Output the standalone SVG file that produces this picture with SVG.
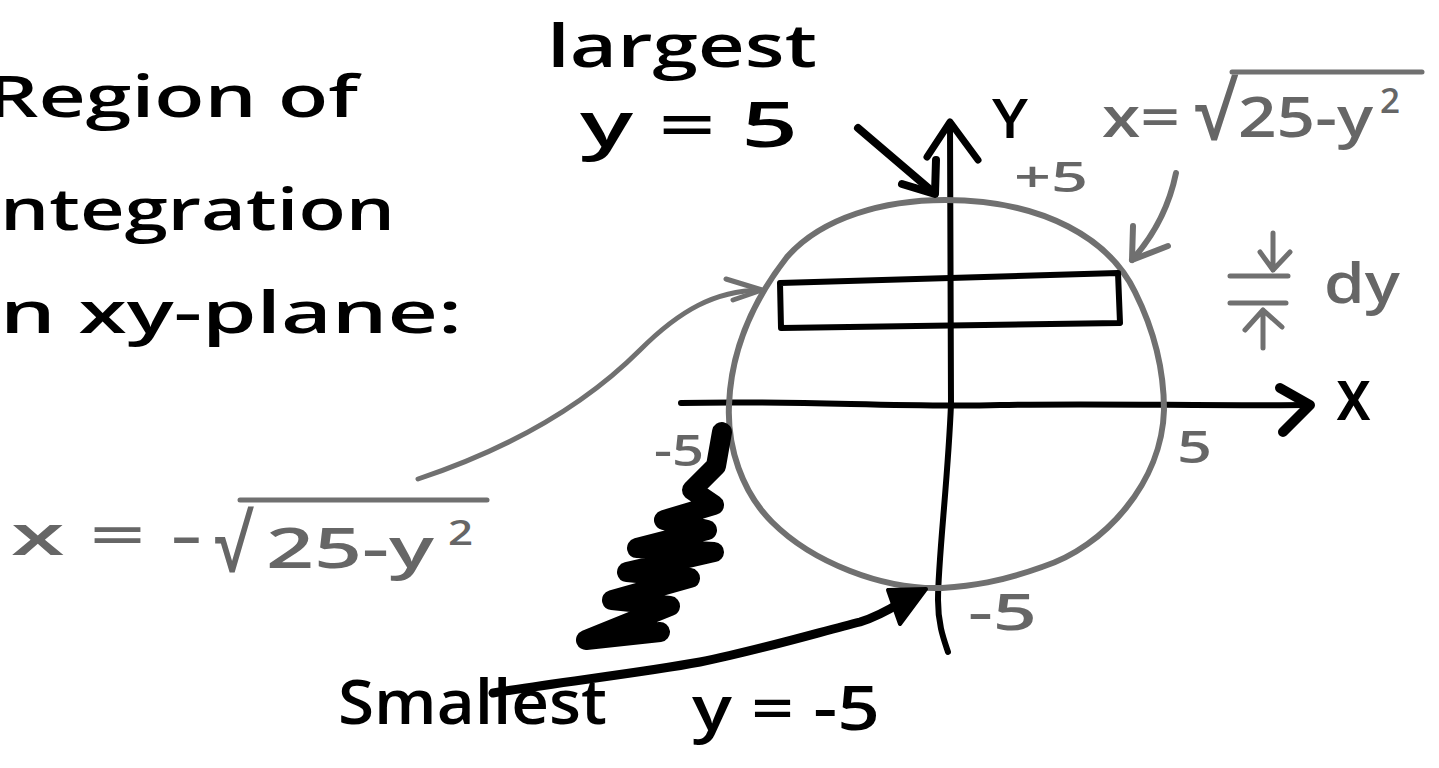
<svg xmlns="http://www.w3.org/2000/svg" width="1439" height="768" viewBox="0 0 1439 768">
<style>
  .hand { font-family: "Open Sans", "DejaVu Sans", sans-serif; font-weight: 600; fill: #000; }
  .gray { font-family: "Open Sans", "DejaVu Sans", sans-serif; font-weight: 600; fill: #666; }
  .ink { fill: none; stroke: #000; stroke-linecap: round; stroke-linejoin: round; }
  .pencil { fill: none; stroke: #707070; stroke-linecap: round; stroke-linejoin: round; }
</style>
<rect x="0" y="0" width="1439" height="768" fill="#fff"/>

<g id="title">
  <text class="hand" x="-14" y="117" font-size="58" textLength="372" lengthAdjust="spacingAndGlyphs">Region of</text>
  <text class="hand" x="0" y="230" font-size="58" textLength="395" lengthAdjust="spacingAndGlyphs">ntegration</text>
  <text class="hand" x="0" y="333" font-size="58" textLength="462" lengthAdjust="spacingAndGlyphs">n xy-plane:</text>
</g>

<g id="largest-label">
  <text class="hand" x="547" y="67" font-size="60" textLength="270" lengthAdjust="spacingAndGlyphs">largest</text>
  <text class="hand" x="580" y="147" font-size="64" textLength="218" lengthAdjust="spacingAndGlyphs">y = 5</text>
</g>

<g id="axes">
  <path class="ink" stroke-width="6" d="M 950 124 L 951 404 C 948 480 938 560 938 600 C 938 625 944 640 948 652"/>
  <path class="ink" stroke-width="7" d="M 927 157 L 950 122 L 978 160"/>
  <text class="hand" x="992" y="138" font-size="54" textLength="36" lengthAdjust="spacingAndGlyphs">Y</text>
  <path class="ink" stroke-width="6" d="M 681 403 C 800 400 900 408 1000 405 C 1100 403 1200 406 1306 405"/>
  <path class="ink" stroke-width="10" d="M 1280 388 L 1310 405 L 1283 432"/>
  <text class="hand" x="1336" y="420" font-size="72" textLength="35" lengthAdjust="spacingAndGlyphs">x</text>
</g>

<g id="circle">
  <path class="pencil" stroke-width="6" d="M 945 200 C 1045 200 1110 240 1135 292 C 1155 332 1164 370 1164 410 C 1162 482 1105 547 1042 567 C 1000 582 972 586 942 588 C 882 590 812 562 772 522 C 742 492 727 447 729 405 C 731 350 752 302 787 257 C 822 217 885 200 945 200 Z"/>
  <text class="gray" x="1014" y="192" font-size="42" textLength="74" lengthAdjust="spacingAndGlyphs">+5</text>
  <text class="gray" x="1177" y="463" font-size="46" textLength="35" lengthAdjust="spacingAndGlyphs">5</text>
  <text class="gray" x="654" y="466" font-size="44" textLength="50" lengthAdjust="spacingAndGlyphs">-5</text>
  <text class="gray" x="968" y="630" font-size="50" textLength="69" lengthAdjust="spacingAndGlyphs">-5</text>
</g>

<g id="strip">
  <path class="ink" stroke-width="6" d="M 780 283 L 1118 273 L 1120 323 L 781 328 Z"/>
</g>

<g id="dy-label">
  <path class="pencil" stroke-width="5" d="M 1273 233 L 1273 270 M 1260 252 L 1273 270 L 1290 252 M 1230 276 L 1288 276 M 1230 303 L 1286 303 M 1263 348 L 1263 310 M 1245 330 L 1263 310 L 1282 327"/>
  <text class="gray" x="1324" y="303" font-size="56" textLength="76" lengthAdjust="spacingAndGlyphs">dy</text>
</g>

<g id="right-boundary-label">
  <text class="gray" x="1102" y="137" font-size="56" textLength="78" lengthAdjust="spacingAndGlyphs">x=</text>
  <text class="gray" x="1194" y="140" font-size="78" textLength="40" lengthAdjust="spacingAndGlyphs">√</text>
  <text class="gray" x="1238" y="137" font-size="56" textLength="135" lengthAdjust="spacingAndGlyphs">25-y</text>
  <text class="gray" x="1380" y="113" font-size="34" textLength="20" lengthAdjust="spacingAndGlyphs">2</text>
  <path class="pencil" stroke-width="5" d="M 1232 72 L 1422 72"/>
</g>

<g id="left-boundary-label">
  <text class="gray" x="11" y="555" font-size="56" textLength="191" lengthAdjust="spacingAndGlyphs">x = -</text>
  <text class="gray" x="214" y="572" font-size="78" textLength="36" lengthAdjust="spacingAndGlyphs">√</text>
  <text class="gray" x="266" y="568" font-size="56" textLength="168" lengthAdjust="spacingAndGlyphs">25-y</text>
  <text class="gray" x="448" y="545" font-size="34" textLength="25" lengthAdjust="spacingAndGlyphs">2</text>
  <path class="pencil" stroke-width="5" d="M 240 500 L 487 500"/>
</g>

<g id="scribble">
  <path class="ink" stroke-width="20" d="M 722 432 L 716 466 L 692 490 L 714 505 L 664 520 L 707 530 L 637 548 L 714 552 L 627 572 L 690 578 L 612 600 L 670 606 L 586 640 L 660 632"/>
</g>

<g id="smallest-label">
  <text class="hand" x="338" y="724" font-size="62" textLength="269" lengthAdjust="spacingAndGlyphs">Smallest</text>
  <text class="hand" x="692" y="730" font-size="62" textLength="188" lengthAdjust="spacingAndGlyphs">y = -5</text>
</g>

<g id="connectors">
  <path class="ink" stroke-width="8" d="M 858 128 L 933 192"/>
  <path class="ink" stroke-width="8" d="M 902 184 L 935 194 L 936 160"/>
  <path class="pencil" stroke-width="6" d="M 1176 173 Q 1166 222 1132 260"/>
  <path class="pencil" stroke-width="6" d="M 1133 226 L 1132 260 L 1168 246"/>
  <path class="pencil" stroke-width="5" d="M 418 479 C 520 445 590 400 640 350 C 680 310 715 291 760 290"/>
  <path class="pencil" stroke-width="5" d="M 726 279 L 762 290 L 733 300"/>
  <path class="ink" stroke-width="9" d="M 493 693 C 560 682 640 673 700 662 C 760 650 820 632 860 622 C 880 616 895 606 905 600"/>
  <polygon points="888,590 926,589 900,624" fill="#000" stroke="#000" stroke-width="4" stroke-linejoin="round"/>
</g>
</svg>
